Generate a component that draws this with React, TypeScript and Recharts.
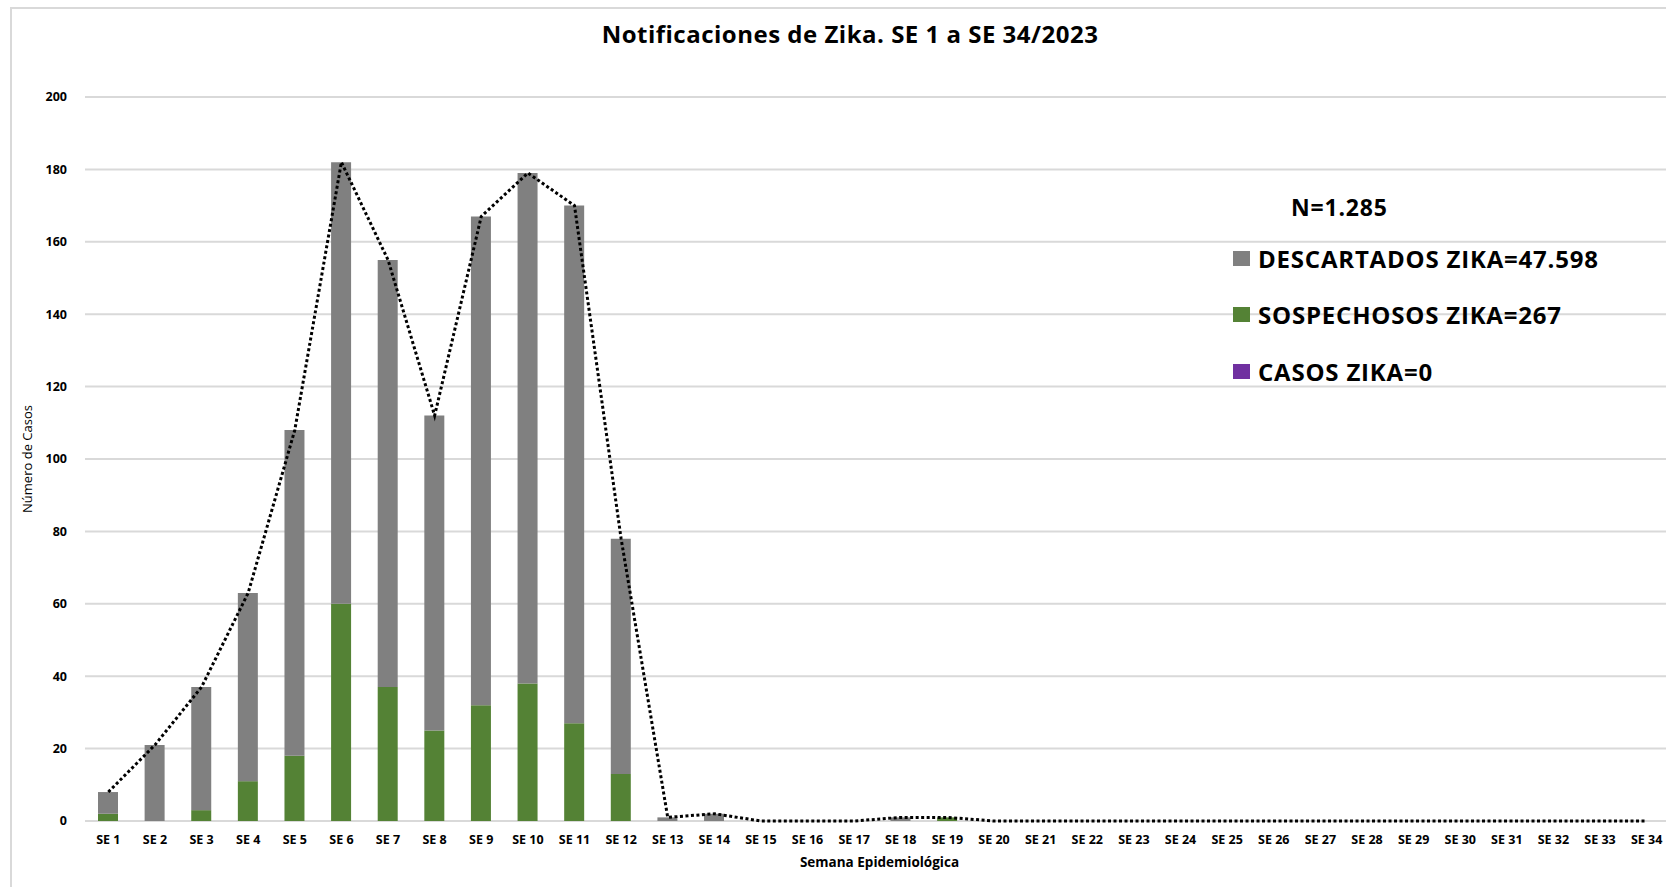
import {
  ComposedChart,
  Bar,
  Line,
  XAxis,
  YAxis,
  CartesianGrid,
} from 'recharts';

const weeks = Array.from({ length: 34 }, (_, i) => `SE ${i + 1}`);

const descartados = [6, 21, 34, 52, 90, 122, 118, 87, 135, 141, 143, 65, 1, 2, 0, 0, 0, 1, 0, 0, 0, 0, 0, 0, 0, 0, 0, 0, 0, 0, 0, 0, 0, 0];
const sospechosos = [2, 0, 3, 11, 18, 60, 37, 25, 32, 38, 27, 13, 0, 0, 0, 0, 0, 0, 1, 0, 0, 0, 0, 0, 0, 0, 0, 0, 0, 0, 0, 0, 0, 0];
const casos = [0, 0, 0, 0, 0, 0, 0, 0, 0, 0, 0, 0, 0, 0, 0, 0, 0, 0, 0, 0, 0, 0, 0, 0, 0, 0, 0, 0, 0, 0, 0, 0, 0, 0];

const yTicks = [0, 20, 40, 60, 80, 100, 120, 140, 160, 180, 200];

const legendItems = [
  { label: 'DESCARTADOS ZIKA=47.598', color: '#808080' },
  { label: 'SOSPECHOSOS ZIKA=267', color: '#548235' },
  { label: 'CASOS ZIKA=0', color: '#7030A0' },
];

const data = weeks.map((week, i) => ({
  week,
  sospechosos: sospechosos[i],
  descartados: descartados[i],
  casos: casos[i],
  total: sospechosos[i] + descartados[i] + casos[i],
}));

const FONT = '"Open Sans", sans-serif';

function ZikaLegend() {
  return (
    <div
      style={{
        position: 'absolute',
        left: 1233,
        top: 190,
        fontFamily: FONT,
        fontWeight: 700,
        color: '#000',
        letterSpacing: 0.8,
      }}
    >
      <div style={{ fontSize: 23, marginLeft: 58, height: 40, lineHeight: '34px' }}>N=1.285</div>
      {legendItems.map((item) => (
        <div
          key={item.label}
          style={{ display: 'flex', alignItems: 'center', fontSize: 24, height: 56.5 }}
        >
          <span
            style={{
              display: 'inline-block',
              width: 17,
              height: 15,
              background: item.color,
              marginRight: 8,
            }}
          />
          {item.label}
        </div>
      ))}
    </div>
  );
}

export default function App() {
  return (
    <div
      style={{
        position: 'absolute',
        left: 0,
        top: 0,
        width: 1666,
        height: 887,
        overflow: 'hidden',
        background: '#fff',
      }}
    >
      <div
        style={{
          position: 'absolute',
          left: 10,
          top: 7,
          width: 1700,
          height: 900,
          border: '2px solid #d9d9d9',
        }}
      />
      <div
        style={{
          position: 'absolute',
          left: 0,
          width: 1700,
          top: 17,
          textAlign: 'center',
          fontFamily: FONT,
          fontWeight: 700,
          fontSize: 24,
          letterSpacing: 0.5,
        }}
      >
        Notificaciones de Zika. SE 1 a SE 34/2023
      </div>
      <div style={{ position: 'absolute', left: 0, top: 0 }}>
        <ComposedChart
          width={1680}
          height={887}
          data={data}
          margin={{ top: 97, right: 10, bottom: 20, left: 0 }}
          barSize={20}
        >
          <CartesianGrid vertical={false} stroke="#d9d9d9" strokeWidth={2} />
          <XAxis
            dataKey="week"
            interval={0}
            tickLine={false}
            axisLine={false}
            tick={{ fontFamily: FONT, fontWeight: 700, fontSize: 12.5, fill: '#000' }}
            tickMargin={8}
            height={46}
            label={{
              value: 'Semana Epidemiológica',
              position: 'insideBottom',
              offset: 0,
              dx: 2,
              style: { fontFamily: FONT, fontWeight: 700, fontSize: 13.5, fill: '#000' },
            }}
          />
          <YAxis
            width={85}
            domain={[0, 200]}
            ticks={yTicks}
            axisLine={false}
            tickLine={false}
            tickMargin={12}
            tick={{ fontFamily: FONT, fontWeight: 700, fontSize: 12.5, fill: '#000' }}
            label={{
              value: 'Número de Casos',
              angle: -90,
              position: 'insideLeft',
              offset: 27,
              style: { fontFamily: FONT, fontSize: 13, fill: '#000', textAnchor: 'middle' },
            }}
          />
          <Bar dataKey="sospechosos" stackId="a" fill="#548235" isAnimationActive={false} />
          <Bar dataKey="descartados" stackId="a" fill="#808080" isAnimationActive={false} />
          <Bar dataKey="casos" stackId="a" fill="#7030A0" isAnimationActive={false} />
          <Line
            type="linear"
            dataKey="total"
            stroke="#000"
            strokeWidth={3}
            strokeDasharray="3 2.5"
            dot={false}
            activeDot={false}
            legendType="none"
            isAnimationActive={false}
          />
        </ComposedChart>
      </div>
      <ZikaLegend />
    </div>
  );
}
